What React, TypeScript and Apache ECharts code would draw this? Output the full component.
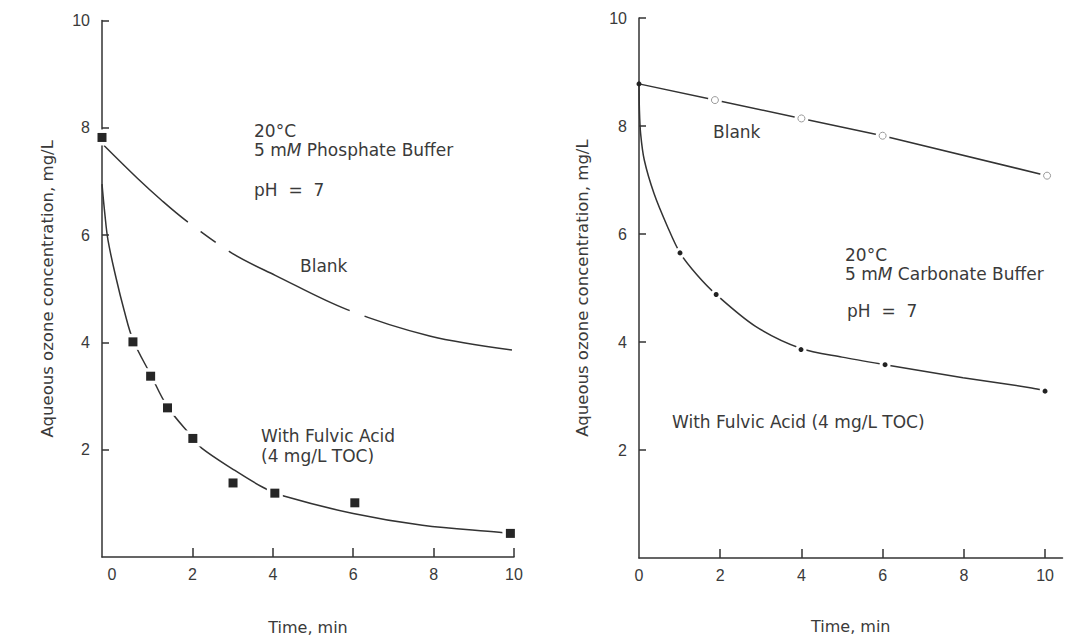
import React, { useEffect, useRef } from "react";
import * as echarts from "echarts";

// ---- Left panel (5 mM phosphate buffer) ----
const leftSquareX = [-0.25, 0.52, 0.96, 1.38, 2.01, 3.01, 4.05, 6.04, 9.91];
const leftSquareY = [7.82, 4.01, 3.37, 2.78, 2.21, 1.38, 1.19, 1.01, 0.44];
const leftFulvicCurveX = [-0.25, -0.18, -0.1, 0.1, 0.3, 0.52, 0.96, 1.38, 2.01, 2.23, 3.0, 3.75, 4.25, 6.0, 7.72, 9.63, 9.9];
const leftFulvicCurveY = [6.95, 6.4, 5.9, 5.2, 4.6, 4.05, 3.4, 2.8, 2.22, 2.03, 1.64, 1.3, 1.14, 0.81, 0.59, 0.46, 0.44];
const leftBlankCurveX = [-0.2, 0.63, 1.23, 1.84, 2.99, 4.06, 5.85, 7.9, 9.95];
const leftBlankCurveY = [7.67, 7.06, 6.65, 6.27, 5.66, 5.25, 4.61, 4.12, 3.86];
const leftBlankHiddenX = [2.05, 2.75, 6.1];
const leftBlankHiddenY = [6.16, 5.79, 4.55];

// ---- Right panel (5 mM carbonate buffer) ----
const rightBlankX = [0, 1.87, 4.0, 6.0, 10.05];
const rightBlankY = [8.78, 8.48, 8.14, 7.82, 7.08];
const rightDotX = [0, 1.01, 1.9, 3.99, 6.06, 10.0];
const rightDotY = [8.78, 5.65, 4.88, 3.86, 3.58, 3.09];
const rightFulvicCurveX = [0, 0.01, 0.04, 0.13, 0.37, 0.7, 1.01, 1.42, 1.9, 2.87, 3.99, 5.0, 6.06, 7.98, 9.67, 10.0];
const rightFulvicCurveY = [8.78, 8.3, 7.86, 7.37, 6.75, 6.14, 5.65, 5.25, 4.88, 4.29, 3.88, 3.72, 3.58, 3.34, 3.15, 3.1];

const xTickValues = [2, 4, 6, 8, 10];
const xLabelValues = [0, 2, 4, 6, 8, 10];
const yTickValues = [2, 4, 6, 8, 10];

const yName = "Aqueous ozone concentration, mg/L";
const xName = "Time, min";

const zip = (xs: number[], ys: number[]) => xs.map((x, i) => [x, ys[i]]);

const INK = "#333";
const TEXT = "#3a3a3a";
const FONT = "DejaVu Sans";

export default function App() {
  const ref = useRef<HTMLDivElement>(null);
  useEffect(() => {
    const chart = echarts.init(ref.current!, null, { renderer: "svg" });

    const xAxisBase = (gridIndex: number, min: number, max: number, gap: number) => ({
      type: "value",
      gridIndex,
      min,
      max,
      name: xName,
      nameLocation: "middle",
      nameGap: gap,
      nameTextStyle: { fontFamily: FONT, fontSize: 16, color: TEXT },
      axisLine: { show: true, onZero: false, lineStyle: { color: INK, width: 1.5 } },
      axisTick: { show: true, inside: true, length: 9, customValues: xTickValues, lineStyle: { color: INK, width: 1.5 } },
      axisLabel: { customValues: xLabelValues, margin: 9, fontFamily: "Liberation Sans", fontSize: 16, color: TEXT },
      splitLine: { show: false },
    });
    const yAxisBase = (gridIndex: number, gap: number) => ({
      type: "value",
      gridIndex,
      min: 0,
      max: 10,
      name: yName,
      nameLocation: "middle",
      nameGap: gap,
      nameRotate: 90,
      nameTextStyle: { fontFamily: FONT, fontSize: 16.5, color: TEXT },
      axisLine: { show: true, onZero: false, lineStyle: { color: INK, width: 1.5 } },
      axisTick: { show: true, inside: true, length: 7, customValues: yTickValues, lineStyle: { color: INK, width: 1.5 } },
      axisLabel: { customValues: yTickValues, margin: 12, fontFamily: "Liberation Sans", fontSize: 16, color: TEXT },
      splitLine: { show: false },
    });

    const txt = (x: number, y: number, text: string, size = 17) => ({
      type: "text",
      x,
      y,
      z: 100,
      style: {
        text,
        fill: TEXT,
        fontFamily: FONT,
        fontSize: size,
        verticalAlign: "middle",
        align: "left",
        rich: {
          i: { fontStyle: "italic", fontFamily: FONT, fontSize: size, fill: TEXT, verticalAlign: "middle" },
          n: { fontFamily: FONT, fontSize: size, fill: TEXT, verticalAlign: "middle" },
        },
      },
    });

    const halo = { color: "#ffffff", opacity: 1 };

    chart.setOption({
      animation: false,
      backgroundColor: "#ffffff",
      grid: [
        { left: 102, top: 20.5, width: 412, height: 541.5, containLabel: false },
        { left: 639, top: 18, width: 423.5, height: 540, containLabel: false },
      ],
      xAxis: [xAxisBase(0, -0.25, 10, 62), xAxisBase(1, 0, 10.43, 60)],
      yAxis: [yAxisBase(0, 46), yAxisBase(1, 48)],
      series: [
        // left: blank curve
        {
          type: "line", xAxisIndex: 0, yAxisIndex: 0, z: 2,
          data: zip(leftBlankCurveX, leftBlankCurveY),
          smooth: 0.35, showSymbol: false, symbol: "none",
          lineStyle: { color: INK, width: 1.5 },
        },
        {
          type: "scatter", xAxisIndex: 0, yAxisIndex: 0, z: 3,
          data: zip(leftBlankHiddenX, leftBlankHiddenY),
          symbol: "circle", symbolSize: 16, itemStyle: halo, silent: true,
        },
        // left: fulvic acid curve
        {
          type: "line", xAxisIndex: 0, yAxisIndex: 0, z: 2,
          data: zip(leftFulvicCurveX, leftFulvicCurveY),
          smooth: 0.35, showSymbol: false, symbol: "none",
          lineStyle: { color: INK, width: 1.5 },
        },
        {
          type: "scatter", xAxisIndex: 0, yAxisIndex: 0, z: 3, clip: false,
          data: zip(leftSquareX, leftSquareY),
          symbol: "rect", symbolSize: 16, itemStyle: halo, silent: true,
        },
        {
          type: "scatter", xAxisIndex: 0, yAxisIndex: 0, z: 4, clip: false,
          data: zip(leftSquareX, leftSquareY),
          symbol: "rect", symbolSize: 9, itemStyle: { color: "#262626", opacity: 1 },
        },
        // right: blank line
        {
          type: "line", xAxisIndex: 1, yAxisIndex: 1, z: 2,
          data: zip(rightBlankX, rightBlankY),
          showSymbol: false, symbol: "none",
          lineStyle: { color: INK, width: 1.5 },
        },
        {
          type: "scatter", xAxisIndex: 1, yAxisIndex: 1, z: 3,
          data: zip(rightBlankX.slice(1), rightBlankY.slice(1)),
          symbol: "circle", symbolSize: 14, itemStyle: halo, silent: true,
        },
        {
          type: "scatter", xAxisIndex: 1, yAxisIndex: 1, z: 4,
          data: zip(rightBlankX.slice(1), rightBlankY.slice(1)),
          symbol: "circle", symbolSize: 7,
          itemStyle: { color: "#ffffff", borderColor: "#9a9a9a", borderWidth: 1, opacity: 1 },
        },
        // right: fulvic acid curve
        {
          type: "line", xAxisIndex: 1, yAxisIndex: 1, z: 2,
          data: zip(rightFulvicCurveX, rightFulvicCurveY),
          smooth: 0.3, showSymbol: false, symbol: "none",
          lineStyle: { color: INK, width: 1.5 },
        },
        {
          type: "scatter", xAxisIndex: 1, yAxisIndex: 1, z: 3,
          data: zip(rightDotX.slice(1), rightDotY.slice(1)),
          symbol: "circle", symbolSize: 11, itemStyle: halo, silent: true,
        },
        {
          type: "scatter", xAxisIndex: 1, yAxisIndex: 1, z: 4, clip: false,
          data: zip(rightDotX, rightDotY),
          symbol: "circle", symbolSize: 5, itemStyle: { color: "#222", opacity: 1 },
        },
      ],
      graphic: [
        txt(254, 131, "20°C"),
        txt(254, 150, "{n|5 m}{i|M}{n| Phosphate Buffer}"),
        txt(254, 190, "pH  =  7"),
        txt(300, 266, "Blank"),
        txt(261, 436, "With Fulvic Acid"),
        txt(261, 456, "(4 mg/L TOC)"),
        txt(713, 132, "Blank"),
        txt(845, 255, "20°C"),
        txt(845, 274, "{n|5 m}{i|M}{n| Carbonate Buffer}"),
        txt(847, 311, "pH  =  7"),
        txt(672, 422, "With Fulvic Acid (4 mg/L TOC)"),
      ],
    });
    return () => chart.dispose();
  }, []);
  return (
    <div
      ref={ref}
      style={{ position: "fixed", left: 0, top: 0, width: 1072, height: 640, background: "#fff" }}
    />
  );
}
